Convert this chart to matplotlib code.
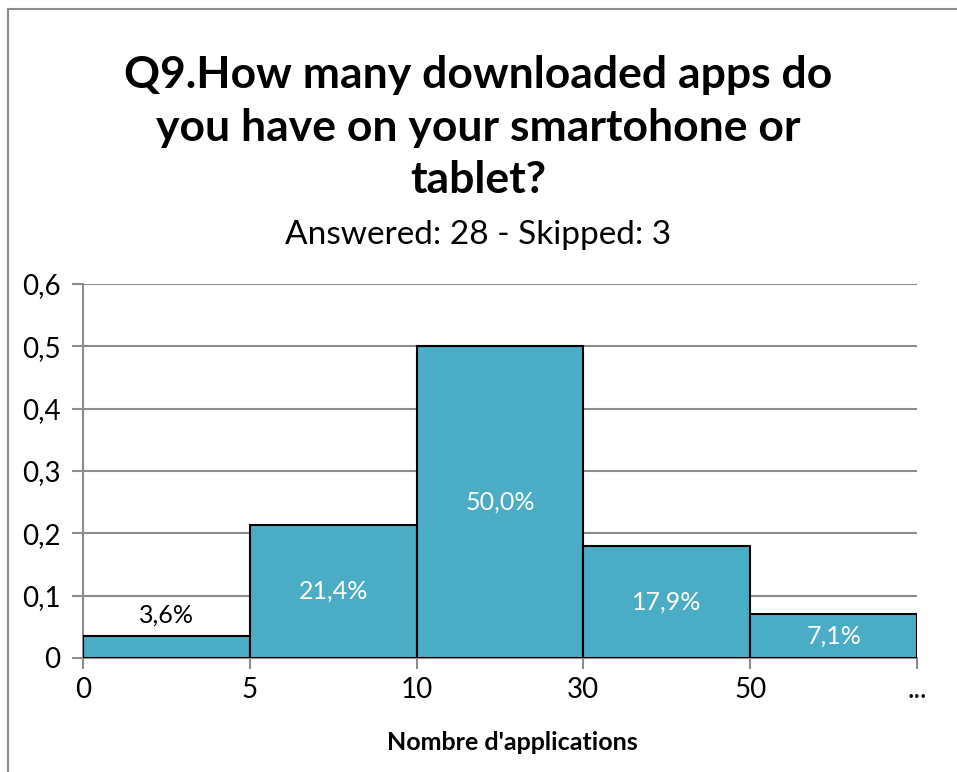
import matplotlib.pyplot as plt
from matplotlib.patches import Rectangle

plt.rcParams['font.family'] = ['Lato', 'DejaVu Sans']

# data
edges = ["0", "5", "10", "30", "50", "..."]
shares = [0.036, 0.214, 0.500, 0.179, 0.071]
labels = ["3,6%", "21,4%", "50,0%", "17,9%", "7,1%"]
yticks = [0, 0.1, 0.2, 0.3, 0.4, 0.5, 0.6]
ytick_labels = ["0", "0,1", "0,2", "0,3", "0,4", "0,5", "0,6"]

fig = plt.figure(figsize=(9.57, 7.72), dpi=100)
ax = fig.add_axes([0.0867, 0.1477, 0.8715, 0.4845])

# outer chart frame (cut at right / bottom like the screenshot)
fig.patches.append(Rectangle((8 / 957, -0.05), 1.2, 1 - 9 / 772 + 0.05,
                             transform=fig.transFigure, fill=False,
                             edgecolor='#8c8c8c', linewidth=1.5))

xs = [i + 0.5 for i in range(len(shares))]
ax.bar(xs, shares, width=1.0, color='#4BACC6', edgecolor='black', linewidth=1.5, zorder=3)

for x, v, lab in zip(xs, shares, labels):
    if v < 0.05:
        ax.text(x, v + 0.015, lab, ha='center', va='bottom', fontsize=18, color='black', zorder=4)
    else:
        ax.text(x, v / 2, lab, ha='center', va='center', fontsize=18, color='white', zorder=4)

ax.set_xlim(0, len(shares))
ax.set_ylim(0, 0.6)
ax.set_yticks(yticks)
ax.set_yticklabels(ytick_labels)
ax.set_xticks(range(len(edges)))
ax.set_xticklabels(edges)
ax.yaxis.grid(True, color='#8c8c8c', linewidth=1.5, zorder=0)
ax.set_axisbelow(True)

for s in ['top', 'right']:
    ax.spines[s].set_visible(False)
for s in ['left', 'bottom']:
    ax.spines[s].set_color('#8c8c8c')
    ax.spines[s].set_linewidth(1.5)
ax.tick_params(axis='both', colors='#8c8c8c', width=1.5, length=8, labelsize=20, labelcolor='black')
ax.tick_params(axis='y', pad=8)
ax.tick_params(axis='x', pad=6)

fig.text(0.5, 1 - 75 / 772, "Q9.How many downloaded apps do", ha='center', va='center',
         fontsize=32, fontweight='bold')
fig.text(0.5, 1 - 128 / 772, "you have on your smartohone or", ha='center', va='center',
         fontsize=32, fontweight='bold')
fig.text(0.5, 1 - 180 / 772, "tablet?", ha='center', va='center',
         fontsize=32, fontweight='bold')
fig.text(0.5, 1 - 235 / 772, "Answered: 28 - Skipped: 3", ha='center', va='center', fontsize=24)
fig.text(0.535, 1 - 743 / 772, "Nombre d'applications", ha='center', va='center',
         fontsize=18, fontweight='bold')

plt.savefig("out.png", dpi=100)
